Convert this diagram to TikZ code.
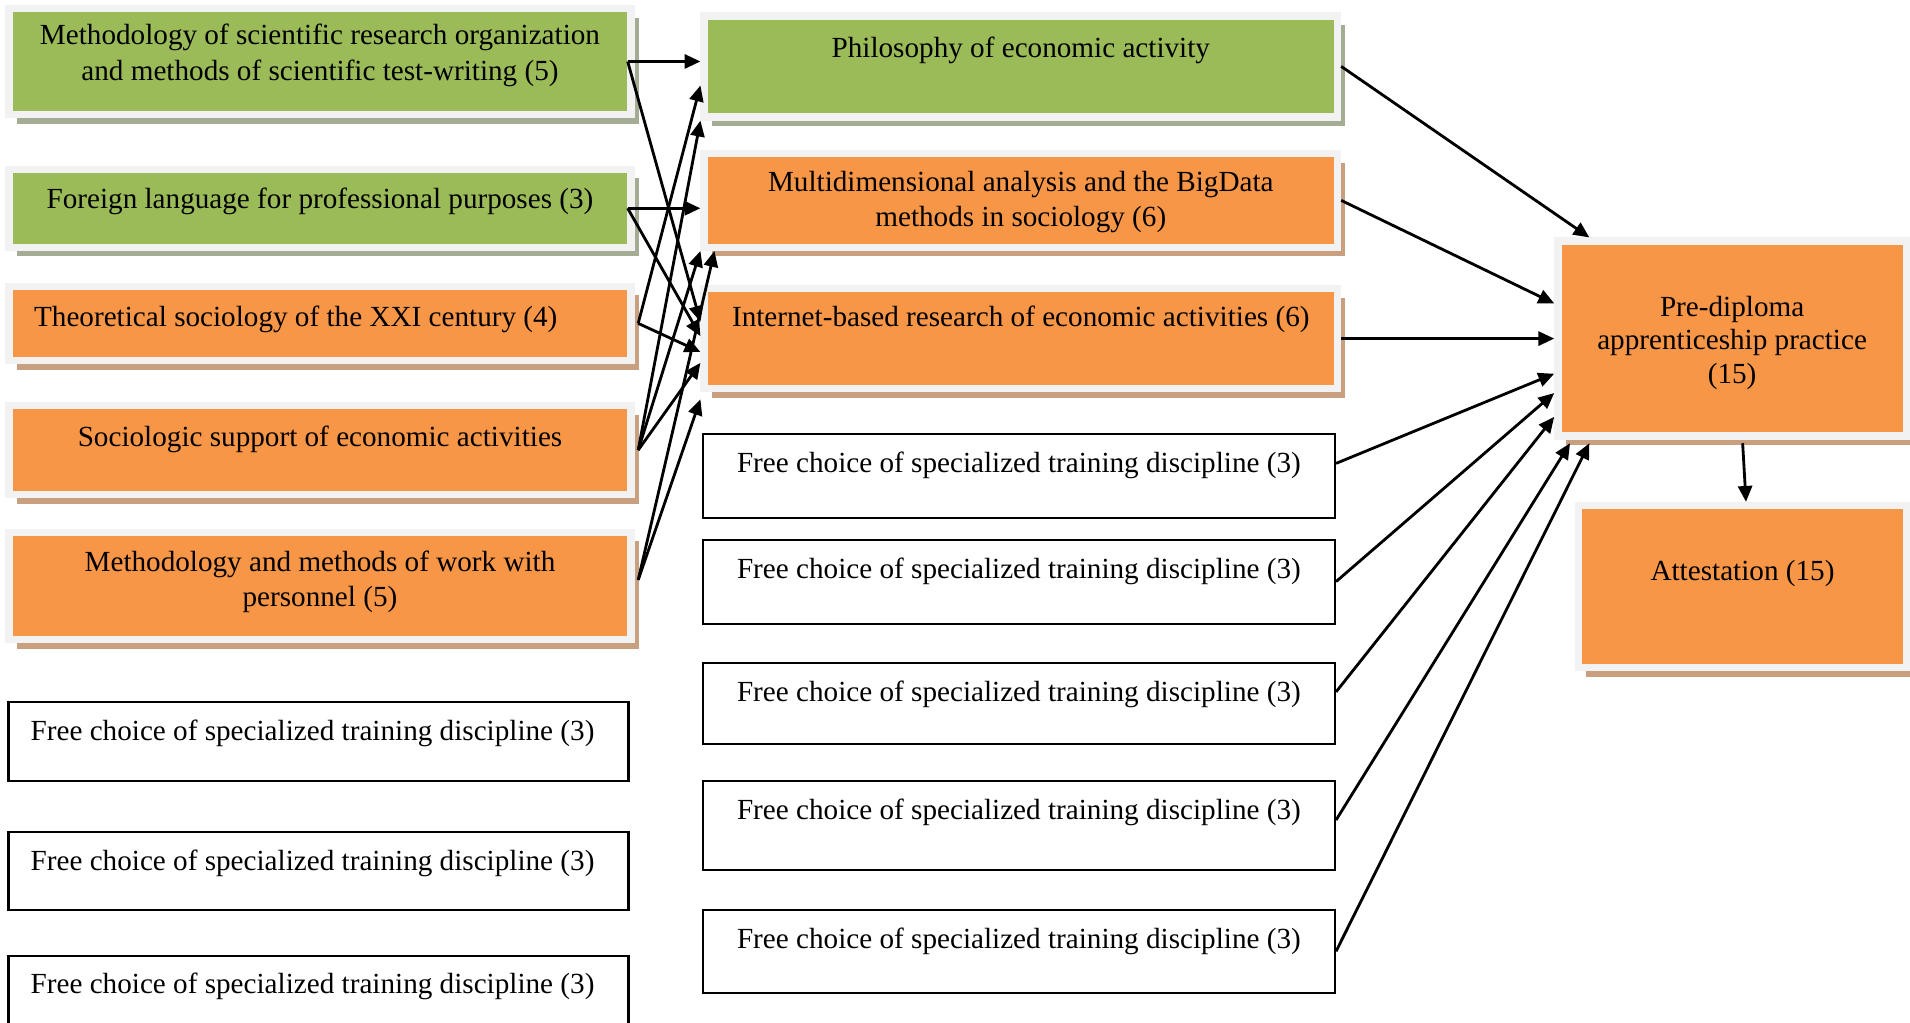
\documentclass[tikz,border=0pt]{standalone}
\usepackage{fontspec}
\setmainfont{Liberation Serif}
\usepackage{xcolor}
\usetikzlibrary{arrows.meta,shadows}

\definecolor{leaf}{HTML}{9BBB59}
\definecolor{peach}{HTML}{F79646}
\definecolor{rim}{HTML}{F2F2F2}
\definecolor{leafshade}{HTML}{A4AD94}
\definecolor{peachshade}{HTML}{C9A07F}

\begin{document}
\begin{tikzpicture}[
    card/.style={shape=rectangle, draw=rim, line width=2.1pt, inner sep=2pt,
      font=\fontsize{8.3}{10}\selectfont},
    gbox/.style={card, fill=leaf, general shadow={fill=leafshade, shadow xshift=2.2pt, shadow yshift=-2.6pt}},
    obox/.style={card, fill=peach, general shadow={fill=peachshade, shadow xshift=2.2pt, shadow yshift=-2.6pt}},
    wbox/.style={shape=rectangle, draw, line width=0.6pt, inner sep=2pt,
      font=\fontsize{8.3}{10}\selectfont},
    lift/.style={text height=6pt, text depth=#1},
    stack/.style={align=center, text height=#1, text depth=1.8pt},
    arr/.style={thick, -{Triangle[length=4.5pt,width=4pt]}}]
    \useasboundingbox (0,0) rectangle (19.10,-10.23);

    % first column
    \node[gbox, minimum width=6.22cm, minimum height=1.06cm, stack=12.4pt] (L1) at (3.20,-0.615)
      {Methodology of scientific research organization\\ and methods of scientific test-writing (5)};
    \node[gbox, minimum width=6.22cm, minimum height=0.78cm, lift=6.1pt] (L2) at (3.20,-2.083)
      {Foreign language for professional purposes (3)};
    \node[obox, minimum width=6.22cm, minimum height=0.743cm, lift=4.4pt] (L3) at (3.20,-3.234)
      {Theoretical sociology of the XXI century (4)\hspace*{13.8pt}};
    \node[obox, minimum width=6.22cm, minimum height=0.889cm, lift=7.9pt] (L4) at (3.20,-4.501)
      {Sociologic support of economic activities};
    \node[obox, minimum width=6.22cm, minimum height=1.072cm, stack=13.4pt] (L5) at (3.20,-5.859)
      {Methodology and methods of work with\\ personnel (5)};
    \node[wbox, minimum width=6.20cm, minimum height=0.792cm, lift=6.5pt] (W1) at (3.185,-7.412)
      {Free choice of specialized training discipline (3)\hspace*{3.4pt}};
    \node[wbox, minimum width=6.20cm, minimum height=0.78cm, lift=6.1pt] (W2) at (3.185,-8.709)
      {Free choice of specialized training discipline (3)\hspace*{3.4pt}};
    \node[wbox, minimum width=6.20cm, minimum height=0.792cm, lift=7.2pt] (W3) at (3.185,-9.958)
      {Free choice of specialized training discipline (3)\hspace*{3.4pt}};

    % second column
    \node[gbox, minimum width=6.334cm, minimum height=1.011cm, lift=11.3pt] (M1) at (10.208,-0.664)
      {Philosophy of economic activity};
    \node[obox, minimum width=6.334cm, minimum height=0.938cm, stack=16.5pt] (M2) at (10.208,-2.004)
      {Multidimensional analysis and the BigData\\ methods in sociology (6)};
    \node[obox, minimum width=6.334cm, minimum height=0.999cm, lift=13pt] (M3) at (10.208,-3.386)
      {Internet-based research of economic activities (6)};
    \node[wbox, minimum width=6.322cm, minimum height=0.84cm, lift=7.9pt] (W4) at (10.189,-4.757)
      {Free choice of specialized training discipline (3)};
    \node[wbox, minimum width=6.322cm, minimum height=0.84cm, lift=7.9pt] (W5) at (10.189,-5.816)
      {Free choice of specialized training discipline (3)};
    \node[wbox, minimum width=6.322cm, minimum height=0.816cm, lift=7.2pt] (W6) at (10.189,-7.035)
      {Free choice of specialized training discipline (3)};
    \node[wbox, minimum width=6.322cm, minimum height=0.889cm, lift=9.2pt] (W7) at (10.189,-8.253)
      {Free choice of specialized training discipline (3)};
    \node[wbox, minimum width=6.322cm, minimum height=0.828cm, lift=7.5pt] (W8) at (10.189,-9.513)
      {Free choice of specialized training discipline (3)};

    % third column
    \node[obox, minimum width=3.484cm, minimum height=1.949cm, stack=27.2pt,
      font=\fontsize{8.3}{9.5}\selectfont] (R1) at (17.321,-3.386)
      {Pre-diploma\\ apprenticeship practice\\ (15)};
    \node[obox, minimum width=3.277cm, minimum height=1.62cm, lift=9.2pt] (R2) at (17.425,-5.865)
      {Attestation (15)};

    % first column -> second column
    \draw[arr] ([xshift=-2pt]L1.east) -- (L1.east -| M1.west);
    \draw[arr] ([xshift=-2pt]L1.east) -- ([yshift=4.8pt]M3.west);
    \draw[arr] ([xshift=-2pt]L2.east) -- (L2.east -| M2.west);
    \draw[arr] ([xshift=-2pt]L2.east) -- ([yshift=0.7pt]M3.west);
    \draw[arr] ([xshift=1pt]L3.east) -- ([yshift=10pt]M1.south west);
    \draw[arr] ([xshift=1pt]L3.east) -- ([yshift=-3.8pt]M3.west);
    \draw[arr] ([xshift=1pt]L4.east) -- (M1.south west);
    \draw[arr] ([xshift=1pt]L4.east) -- (M2.south west);
    \draw[arr] ([xshift=1pt]L4.east) -- ([yshift=-6.9pt]M3.west);
    \draw[arr] ([xshift=1pt,yshift=1.7pt]L5.east) -- ([xshift=4pt]M2.south west);
    \draw[arr] ([xshift=1pt,yshift=1.7pt]L5.east) -- ([yshift=-2pt]M3.south west);

    % second column -> practice
    \draw[arr] (M1.east) -- ([xshift=10pt]R1.north west);
    \draw[arr] (M2.east) -- ([yshift=10pt]R1.west);
    \draw[arr] (M3.east) -- (M3.east -| R1.west);
    \draw[arr] ([yshift=3.5pt]W4.east) -- ([yshift=-10pt]R1.west);
    \draw[arr] (W5.east) -- ([yshift=-15.5pt]R1.west);
    \draw[arr] ([yshift=3.3pt]W6.east) -- ([yshift=6.5pt]R1.south west);
    \draw[arr] ([yshift=1.5pt]W7.east) -- ([xshift=4.5pt,yshift=-1pt]R1.south west);
    \draw[arr] (W8.east) -- ([xshift=10pt,yshift=-1pt]R1.south west);
    \draw[arr] ([xshift=3pt,yshift=-1pt]R1.south) -- ([xshift=1pt]R2.north);
\end{tikzpicture}
\end{document}
